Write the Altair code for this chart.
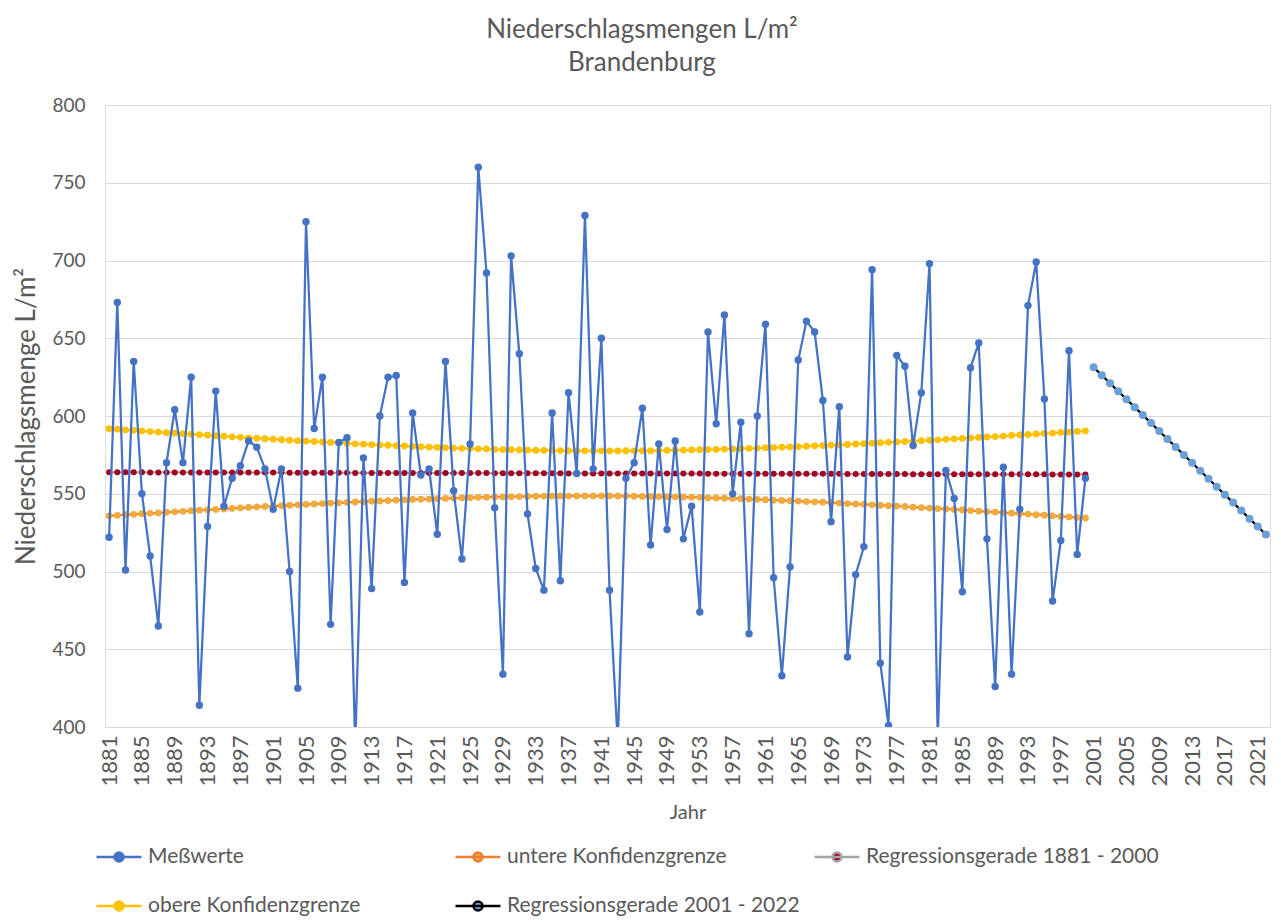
import altair as alt
import pandas as pd

# ---------------- data ----------------
YEARS_MEAS = list(range(1881, 2001))
MESSWERTE = [
    522, 673, 501, 635, 550, 510, 465, 570, 604, 570,
    625, 414, 529, 616, 542, 560, 568, 584, 580, 566,
    540, 566, 500, 425, 725, 592, 625, 466, 583, 586,
    388, 573, 489, 600, 625, 626, 493, 602, 562, 566,
    524, 635, 552, 508, 582, 760, 692, 541, 434, 703,
    640, 537, 502, 488, 602, 494, 615, 563, 729, 566,
    650, 488, 390, 560, 570, 605, 517, 582, 527, 584,
    521, 542, 474, 654, 595, 665, 550, 596, 460, 600,
    659, 496, 433, 503, 636, 661, 654, 610, 532, 606,
    445, 498, 516, 694, 441, 401, 639, 632, 581, 615,
    698, 392, 565, 547, 487, 631, 647, 521, 426, 567,
    434, 540, 671, 699, 611, 481, 520, 642, 511, 560,
]
UNTERE = [
    535.8, 536.1, 536.5, 536.8, 537.2, 537.4, 537.7, 538.1, 538.4, 538.7,
    539.1, 539.4, 539.7, 539.9, 540.2, 540.6, 540.9, 541.2, 541.5, 541.8,
    542.1, 542.4, 542.6, 542.9, 543.1, 543.4, 543.7, 544.0, 544.2, 544.5,
    544.7, 544.9, 545.2, 545.4, 545.6, 545.9, 546.1, 546.3, 546.5, 546.6,
    546.8, 547.0, 547.2, 547.4, 547.5, 547.7, 547.8, 547.9, 548.0, 548.1,
    548.2, 548.3, 548.4, 548.5, 548.5, 548.6, 548.5, 548.6, 548.6, 548.6,
    548.6, 548.6, 548.6, 548.5, 548.4, 548.3, 548.3, 548.2, 548.1, 548.0,
    547.9, 547.8, 547.7, 547.4, 547.3, 547.1, 547.0, 546.8, 546.6, 546.4,
    546.2, 545.9, 545.7, 545.5, 545.3, 545.0, 544.8, 544.6, 544.3, 544.1,
    543.7, 543.4, 543.2, 542.9, 542.6, 542.3, 542.1, 541.8, 541.4, 541.1,
    540.8, 540.5, 540.2, 539.9, 539.6, 539.2, 538.8, 538.5, 538.2, 537.9,
    537.5, 537.2, 536.9, 536.5, 536.2, 535.8, 535.4, 535.1, 534.7, 534.4,
]
OBERE = [
    591.8, 591.5, 591.1, 590.8, 590.4, 590.0, 589.7, 589.3, 589.0, 588.7,
    588.3, 588.0, 587.7, 587.3, 587.0, 586.6, 586.3, 586.0, 585.7, 585.4,
    585.1, 584.8, 584.4, 584.1, 583.9, 583.6, 583.3, 583.0, 582.8, 582.5,
    582.1, 581.9, 581.6, 581.4, 581.2, 580.9, 580.7, 580.5, 580.3, 580.0,
    579.8, 579.6, 579.4, 579.2, 579.1, 578.9, 578.8, 578.5, 578.4, 578.3,
    578.2, 578.1, 578.0, 577.9, 577.9, 577.8, 577.7, 577.6, 577.6, 577.6,
    577.6, 577.6, 577.6, 577.7, 577.6, 577.7, 577.7, 577.8, 577.9, 578.0,
    578.1, 578.2, 578.3, 578.4, 578.5, 578.7, 578.8, 579.0, 579.2, 579.4,
    579.6, 579.7, 579.9, 580.1, 580.3, 580.6, 580.8, 581.0, 581.3, 581.5,
    581.7, 582.0, 582.2, 582.5, 582.8, 583.1, 583.3, 583.6, 583.8, 584.1,
    584.4, 584.7, 585.0, 585.3, 585.6, 586.0, 586.2, 586.5, 586.8, 587.1,
    587.5, 587.8, 588.1, 588.5, 588.8, 589.0, 589.4, 589.7, 590.1, 590.4,
]
REG_1881_2000 = (
    [563.8] * 5 + [563.7] * 8 + [563.6] * 9 + [563.5] * 8 + [563.4] * 9
    + [563.3] * 8 + [563.2] * 9 + [563.1] * 8 + [563.0] * 9 + [562.9] * 8
    + [562.8] * 9 + [562.7] * 8 + [562.6] * 8 + [562.5] * 9 + [562.4] * 5
)
YEARS_REG2 = list(range(2001, 2023))
REG_2001_2022 = [
    631.3, 626.2, 621.1, 615.9, 610.8, 605.7, 600.6, 595.5, 590.3, 585.2, 580.1,
    575.0, 569.9, 564.8, 559.6, 554.5, 549.4, 544.3, 539.2, 534.0, 528.9, 523.8,
]
X_TICKS = list(range(1881, 2022, 4))
Y_TICKS = [400, 450, 500, 550, 600, 650, 700, 750, 800]

SERIES = [
    "Meßwerte",
    "untere Konfidenzgrenze",
    "Regressionsgerade 1881 - 2000",
    "obere Konfidenzgrenze",
    "Regressionsgerade 2001 - 2022",
]
LINE_COLORS = ["#4472C4", "#ED7D31", "#A5A5A5", "#FFC000", "#000000"]
MARKER_COLORS = ["#4472C4", "#F2AA3A", "#A50021", "#FFC000", "#6A9FD8"]

# ---------------- long table ----------------
rows = []
for s, years, vals in [
    (SERIES[0], YEARS_MEAS, MESSWERTE),
    (SERIES[1], YEARS_MEAS, UNTERE),
    (SERIES[2], YEARS_MEAS, REG_1881_2000),
    (SERIES[3], YEARS_MEAS, OBERE),
    (SERIES[4], YEARS_REG2, REG_2001_2022),
]:
    for yr, v in zip(years, vals):
        rows.append({"Jahr": yr, "Wert": v, "Serie": s})
df = pd.DataFrame(rows)

FONT = "Lato"
TXT = "#595959"

legend = alt.Legend(
    title=None,
    orient="none",
    direction="horizontal",
    legendX=-10,
    legendY=728,
    columns=3,
    gridAlign="all",
    columnPadding=9,
    rowPadding=15,
    padding=0,
    symbolType="M-1,0L1,0M-0.2,0A0.2,0.2,0,1,1,0.2,0A0.2,0.2,0,1,1,-0.2,0Z",
    symbolSize=2025,
    symbolStrokeWidth=2.5,
    labelFontSize=21,
    labelFont=FONT,
    labelColor=TXT,
    labelLimit=600,
    labelOffset=5,
)

x_enc = alt.X(
    "Jahr:Q",
    scale=alt.Scale(domain=[1880.5, 2022.5], nice=False, zero=False),
    axis=alt.Axis(
        values=X_TICKS, format="d", labelAngle=270, ticks=False, grid=False,
        domainColor="#D9D9D9", domainWidth=1, labelFontSize=22, labelFont=FONT,
        labelColor=TXT, labelPadding=8, labelOverlap=False, labelFlush=False,
        title="Jahr", titleFontSize=20, titleFont=FONT, titleColor=TXT,
        titleFontWeight="normal", titlePadding=16,
    ),
)
y_enc = alt.Y(
    "Wert:Q",
    scale=alt.Scale(domain=[400, 800], nice=False, zero=False),
    axis=alt.Axis(
        values=Y_TICKS, ticks=False, domain=False, gridColor="#D9D9D9",
        gridWidth=1, labelFontSize=19, labelFont=FONT, labelColor=TXT,
        labelPadding=20, title="Niederschlagsmenge L/m²", titleFontSize=26,
        titleFont=FONT, titleColor=TXT, titleFontWeight="normal", titlePadding=12,
    ),
)
stroke_scale = alt.Scale(domain=SERIES, range=LINE_COLORS)
fill_scale = alt.Scale(domain=SERIES, range=MARKER_COLORS)

base = alt.Chart(df)
marker_size = {
    SERIES[0]: 55,
    SERIES[1]: 46,
    SERIES[2]: 36,
    SERIES[3]: 46,
    SERIES[4]: 64,
}

layers = []
for s in [SERIES[1], SERIES[3], SERIES[2], SERIES[0], SERIES[4]]:
    sub = base.transform_filter(alt.datum.Serie == s)
    line = sub.mark_line(strokeWidth=2.25, clip=True).encode(
        x=x_enc, y=y_enc,
        stroke=alt.Stroke("Serie:N", scale=stroke_scale, legend=legend),
    )
    pts = sub.mark_circle(size=marker_size[s], opacity=1, clip=True).encode(
        x=x_enc, y=y_enc,
        fill=alt.Fill("Serie:N", scale=fill_scale, legend=legend),
    )
    layers += [line, pts]

chart = (
    alt.layer(*layers)
    .properties(
        width=1165,
        height=622,
        autosize=alt.AutoSizeParams(type="none"),
        padding={"left": 97, "top": 97, "right": 3, "bottom": 194},
        title=alt.Title(
            ["Niederschlagsmengen L/m²", "Brandenburg"],
            fontSize=26, font=FONT, color=TXT, fontWeight="normal",
            anchor="middle", frame="bounds", offset=20, lineHeight=33,
        ),
    )
    .configure_view(stroke=None)
    .configure(background="white")
)

chart.save("out.html", embed_options={"renderer": "svg", "actions": False})
